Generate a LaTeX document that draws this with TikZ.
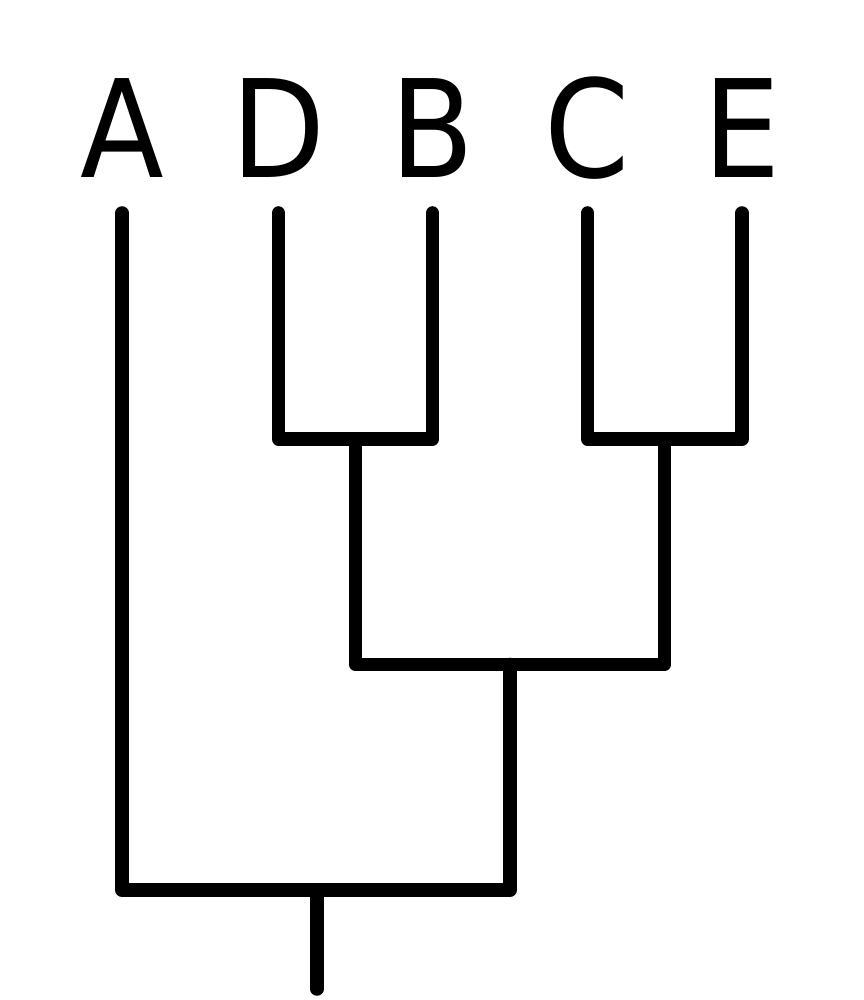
\documentclass[tikz,border=0pt]{standalone}
\usepackage{fontspec}
\setmainfont{DejaVu Sans Condensed}
\usetikzlibrary{calc}
\tikzset{x=0.01cm, y=-0.01cm,
  leaf/.style={anchor=base, inner sep=0pt, font=\fontsize{38.6}{40}\selectfont},
  branch/.style={line width=3.85pt, line cap=round, line join=round}}

\begin{document}
\begin{tikzpicture}
  \useasboundingbox (0,0) rectangle (863,1000);
  \node[leaf] (A) at (122,177) {A};
  \node[leaf] (D) at (278.5,177) {D};
  \node[leaf] (B) at (432.5,177) {B};
  \node[leaf] (C) at (587.5,177) {C};
  \node[leaf] (E) at (742,177) {E};
  \coordinate (a) at (122,213);
  \coordinate (d) at (278.5,213);
  \coordinate (b) at (432.5,213);
  \coordinate (c) at (587.5,213);
  \coordinate (e) at (742,213);
  \coordinate (db) at (355.5,439);
  \coordinate (ce) at (664.5,439);
  \coordinate (dbce) at (510,664.5);
  \coordinate (root) at (317,890);
  \coordinate (rootend) at (317,989);
  \draw[branch] (d) |- (db) -| (b);
  \draw[branch] (c) |- (ce) -| (e);
  \draw[branch] (db) |- (dbce) -| (ce);
  \draw[branch] (a) |- (root) -| (dbce);
  \draw[branch] (root) -- (rootend);
\end{tikzpicture}
\end{document}
